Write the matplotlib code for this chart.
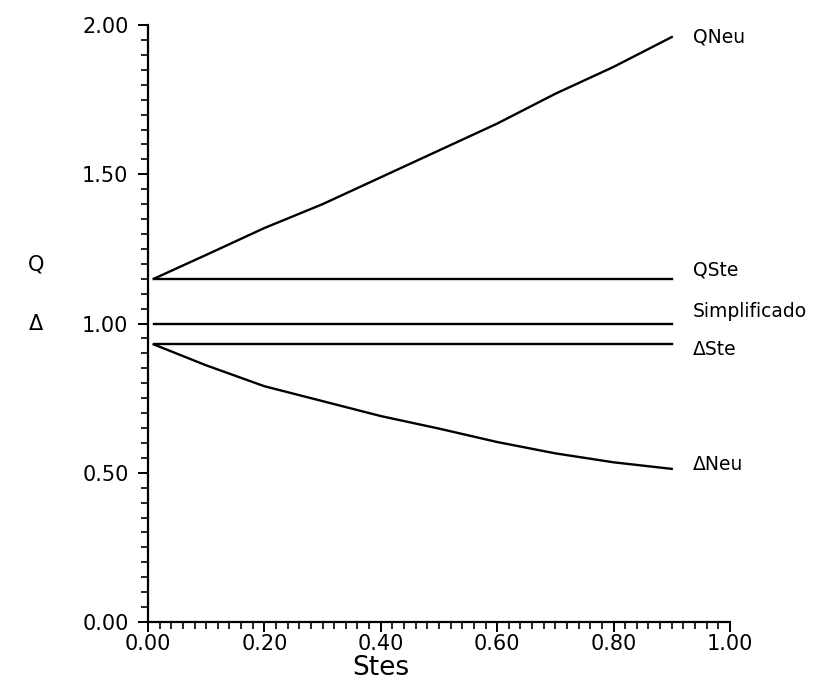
import matplotlib
matplotlib.use("Agg")
import matplotlib.pyplot as plt
from matplotlib.ticker import MultipleLocator, FormatStrFormatter

stes = [0.01, 0.10, 0.20, 0.30, 0.40, 0.50, 0.60, 0.70, 0.80, 0.90]

# curves
q_neu = [1.15, 1.23, 1.32, 1.40, 1.49, 1.58, 1.67, 1.77, 1.86, 1.96]
d_neu = [0.93, 0.86, 0.79, 0.74, 0.69, 0.648, 0.603, 0.565, 0.535, 0.513]

# constant levels
q_ste = 1.15
simplificado = 1.00
d_ste = 0.93

names = ["QNeu", "QSte", "Simplificado", "\u0394Ste", "\u0394Neu"]

fig = plt.figure(figsize=(8.22, 6.9), dpi=100)
ax = fig.add_axes([0.180, 0.0986, 0.708, 0.865])

series = [
    q_neu,
    [q_ste] * len(stes),
    [simplificado] * len(stes),
    [d_ste] * len(stes),
    d_neu,
]
# vertical nudge of each end label, in points
label_dy = [0, 6, 9, -4, 3]

for name, ys, dy in zip(names, series, label_dy):
    ax.plot(stes, ys, color="black", lw=1.7)
    ax.annotate(name, xy=(stes[-1], ys[-1]), xytext=(15, dy),
                textcoords="offset points", va="center", ha="left",
                fontsize=13.5)

ax.set_xlim(0, 1)
ax.set_ylim(0, 2)
ax.spines["top"].set_visible(False)
ax.spines["right"].set_visible(False)
ax.spines["left"].set_linewidth(1.6)
ax.spines["bottom"].set_linewidth(1.6)

ax.xaxis.set_major_locator(MultipleLocator(0.2))
ax.xaxis.set_minor_locator(MultipleLocator(0.02))
ax.yaxis.set_major_locator(MultipleLocator(0.5))
ax.yaxis.set_minor_locator(MultipleLocator(0.05))
ax.xaxis.set_major_formatter(FormatStrFormatter("%.2f"))
ax.yaxis.set_major_formatter(FormatStrFormatter("%.2f"))

ax.tick_params(axis="both", which="major", length=7, width=1.4,
               labelsize=15, direction="out")
ax.tick_params(axis="both", which="minor", length=5, width=1.2,
               direction="out")
ax.tick_params(axis="y", which="major", pad=7)
ax.tick_params(axis="x", which="major", pad=2)

ax.set_xlabel("Stes", fontsize=19, labelpad=0)
ax.xaxis.set_label_coords(0.40, -0.055)

# the two y labels stacked on the left
fig.text(0.044, 0.616, "Q", fontsize=15, ha="center", va="center")
fig.text(0.044, 0.530, "\u0394", fontsize=15, ha="center", va="center")

fig.savefig("out.png", dpi=100)
